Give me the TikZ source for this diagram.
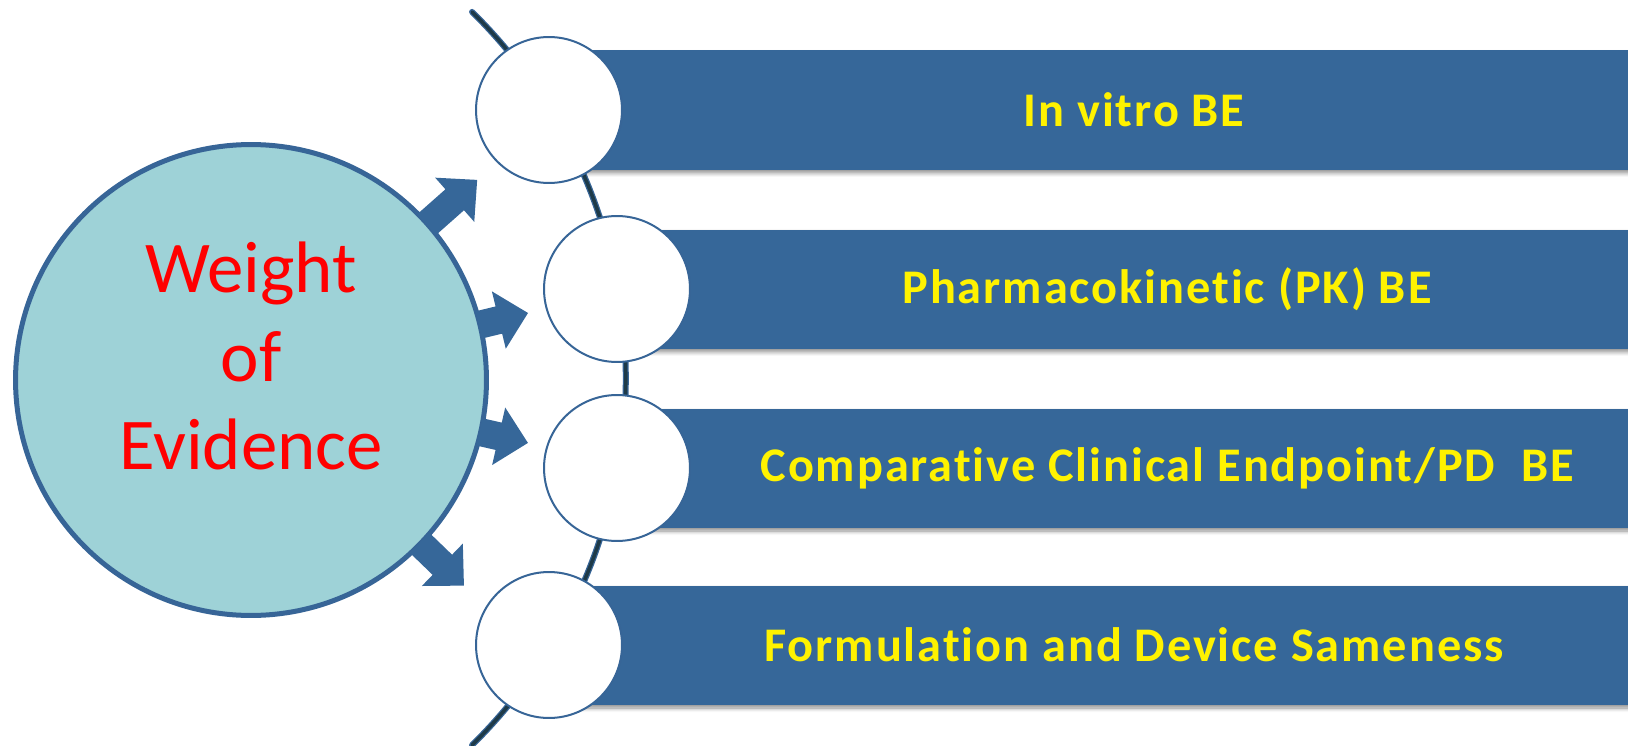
\documentclass[tikz,border=0pt]{standalone}
\usepackage{fontspec}
\setmainfont{Carlito}[Ligatures=NoCommon]
\usetikzlibrary{shadows.blur}

\definecolor{barblue}{RGB}{54,103,153}
\definecolor{rimblue}{RGB}{55,101,151}
\definecolor{hubfill}{RGB}{158,210,215}
\definecolor{arcdark}{RGB}{30,58,72}

\tikzset{
  hub/.style={circle, draw=rimblue, line width=0.1cm, fill=hubfill, minimum size=9.42cm, inner sep=0pt},
  hubtext/.style={align=center, text=red, font=\fontsize{41.5}{50.5}\selectfont},
  ring/.style={circle, draw=rimblue, line width=0.04cm, fill=white, minimum size=2.92cm, inner sep=0pt},
  barfill/.style={fill=barblue, blur shadow={shadow xshift=0cm, shadow yshift=-0.07cm, shadow blur steps=6, shadow blur radius=0.08cm, shadow opacity=45}},
  bartext/.style={text=yellow, font=\fontsize{27.5}{33}\selectfont\bfseries\addfontfeature{LetterSpace=4}},
  blockarrow/.style={fill=barblue},
}

\begin{document}
\begin{tikzpicture}[x=0.02cm, y=0.02cm, line join=round]
  \useasboundingbox (0,0) rectangle (1628,745);
  \clip (0,0) rectangle (1628,745);
  % the spine through the four rings
  \draw[draw=rimblue, double=arcdark, double distance=0.07cm, line width=0.025cm, line cap=round]
    (111.8,366.5) ++(-45.5:514) arc (-45.5:45.5:514);
  % bars and rings
  \foreach \i/\x/\y/\tx/\txt in {1/549/635/1134/{In vitro BE},
                                 2/617/456/1167/{Pharmacokinetic (PK) BE},
                                 3/617/277/1167/{Comparative Clinical Endpoint/PD\ \ BE},
                                 4/549/100/1134/{Formulation and Device Sameness}}{
    \fill[barfill] (\x,\y-59.5) rectangle (1640,\y+59.5);
    \node[ring] (c\i) at (\x,\y) {};
    \node[bartext] (t\i) at (\tx,\y) {\txt};
  }
  % the hub and its arrows (shaft 28, head 59 wide and 30 long)
  \node[hub] (hub) at (251,365) {};
  \node[hubtext] (woe) at (251,389) {Weight\\of\\Evidence};
  \foreach \i/\a/\l in {1/41.5/64, 2/13.6/47, 3/-12.8/46, 4/-44/58}{
    \pgfmathsetmacro\tip{238+\l}
    \pgfmathsetmacro\neck{\tip-30}
    \path (hub.center) ++(\a:\tip) coordinate (tip\i);
    \begin{scope}[shift={(hub.center)}, rotate=\a]
      \fill[blockarrow] (234,-14) -- (\neck,-14) -- (\neck,-29.5) -- (\tip,0)
        -- (\neck,29.5) -- (\neck,14) -- (234,14) arc (3.4:-3.4:236) -- cycle;
    \end{scope}
  }
\end{tikzpicture}
\end{document}
